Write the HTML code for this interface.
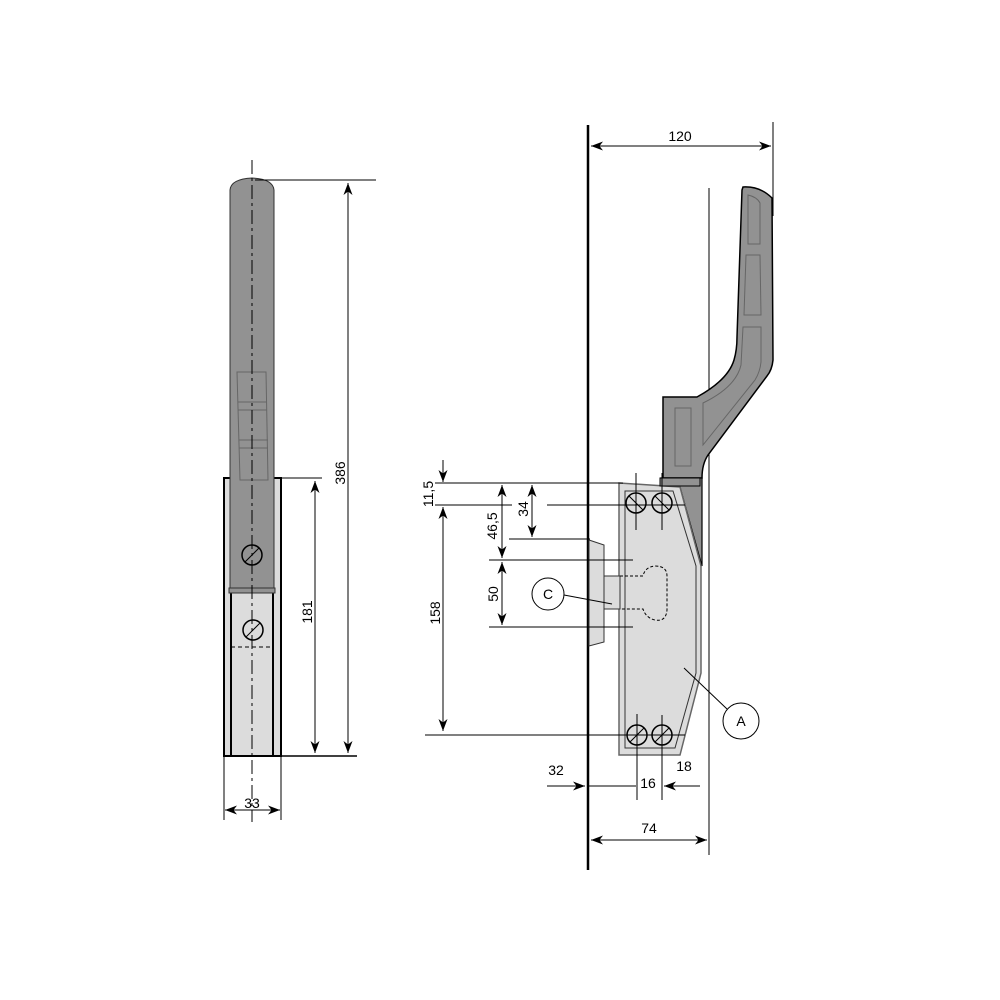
<!DOCTYPE html>
<html><head><style>body{margin:0;background:#fff}svg{display:block}text{font-family:"Liberation Sans",sans-serif;font-size:14px;fill:#000}</style></head>
<body>
<svg width="1000" height="1000" viewBox="0 0 1000 1000" xmlns="http://www.w3.org/2000/svg">
<defs>
<marker id="a" viewBox="0 0 12 10" refX="12" refY="5" markerWidth="12" markerHeight="10" markerUnits="userSpaceOnUse" orient="auto-start-reverse"><path d="M0,0.5 L12,5 L0,9.5 L3.5,5z" fill="#000"/></marker>
</defs>
<g stroke="#000" fill="none">
<!-- LEFT VIEW -->
<rect x="224" y="478" width="57" height="278" fill="#dcdcdc" stroke-width="2"/>
<line x1="231" y1="478" x2="231" y2="756" stroke-width="2"/>
<line x1="273" y1="478" x2="273" y2="756" stroke-width="2"/>
<path d="M230,588 L230,190 Q231,179 252,178 Q273,179 274,190 L274,588 Z" fill="#929292" stroke="#333"/>
<rect x="229" y="588" width="46" height="5" fill="#929292" stroke="#333"/>
<path d="M237,372 L266,372 L268,480 L240,480 Z" stroke="#666"/>
<line x1="238" y1="402" x2="267" y2="402" stroke="#666"/>
<line x1="238" y1="410" x2="267" y2="410" stroke="#666"/>
<line x1="239" y1="440" x2="268" y2="440" stroke="#666"/>
<line x1="239" y1="448" x2="268" y2="448" stroke="#666"/>
<circle cx="252" cy="555" r="10" stroke-width="1.5"/><line x1="245" y1="562" x2="259" y2="548"/>
<circle cx="253" cy="630" r="10" stroke-width="1.5"/><line x1="246" y1="637" x2="260" y2="623"/>
<line x1="231" y1="647" x2="273" y2="647" stroke-dasharray="4,3"/>
<line x1="252" y1="160" x2="252" y2="822" stroke-dasharray="14,4,3,4"/>
<line x1="255" y1="180" x2="376" y2="180"/>
<line x1="281" y1="478" x2="322" y2="478"/>
<line x1="224" y1="756" x2="357" y2="756" stroke-width="1.5"/>
<line x1="348" y1="183" x2="348" y2="753" marker-start="url(#a)" marker-end="url(#a)"/>
<line x1="315" y1="481" x2="315" y2="753" marker-start="url(#a)" marker-end="url(#a)"/>
<line x1="224" y1="756" x2="224" y2="820"/>
<line x1="281" y1="756" x2="281" y2="820"/>
<line x1="225" y1="810" x2="280" y2="810" marker-start="url(#a)" marker-end="url(#a)"/>
<!-- RIGHT VIEW -->
<line x1="588" y1="125" x2="588" y2="870" stroke-width="2.5"/>
<line x1="773" y1="122" x2="773" y2="216"/>
<line x1="709" y1="188" x2="709" y2="855"/>
<line x1="591" y1="146" x2="771" y2="146" marker-start="url(#a)" marker-end="url(#a)"/>
<line x1="591" y1="840" x2="707" y2="840" marker-start="url(#a)" marker-end="url(#a)"/>
<!-- handle -->
<path d="M743,187 Q760,186 772,198 L773,360 Q772,370 767,376 L708,455 Q702,464 702,478 L663,478 L663,397 L697,397 Q728,380 734,360 Q737,350 737,337 L742,190 Z" fill="#929292" stroke-width="1.5"/>
<path d="M748,195 Q757,197 760,203 L760,244 L748,244 Z" stroke="#666"/>
<path d="M746,255 L760,255 L761,315 L744,315 Z" stroke="#666"/>
<path d="M743,327 L761,327 L761,362 Q760,372 755,380 L703,445 L703,403 Q736,387 741,365 Z" stroke="#666"/>
<rect x="675" y="408" width="16" height="58" stroke="#666"/>
<path d="M661,478 L702,478 L702,566 L680,487 L661,487 Z" fill="#929292" stroke-width="1.2"/>
<!-- bracket -->
<path d="M619,483 L680,487 L701,566 L701,673 L680,755 L619,755 Z" fill="#dcdcdc" stroke="#666" stroke-width="1.5"/>
<path d="M625,491 L673,491 L696,566 L696,673 L675,748 L625,748 Z" stroke="#333"/>
<rect x="660" y="478" width="40" height="8" fill="#929292" stroke="#000"/>
<circle cx="636" cy="503" r="10" stroke-width="1.5"/><line x1="629" y1="496" x2="643" y2="510"/>
<circle cx="662" cy="503" r="10" stroke-width="1.5"/><line x1="655" y1="496" x2="669" y2="510"/>
<circle cx="637" cy="735" r="10" stroke-width="1.5"/><line x1="630" y1="742" x2="644" y2="728"/>
<circle cx="662" cy="735" r="10" stroke-width="1.5"/><line x1="655" y1="742" x2="669" y2="728"/>
<line x1="636" y1="473" x2="636" y2="530"/><line x1="662" y1="473" x2="662" y2="530"/>
<line x1="637" y1="714" x2="637" y2="800"/><line x1="662" y1="715" x2="662" y2="800"/>
<!-- knob -->
<path d="M589,540 L604,545 L604,642 L589,646 Z" fill="#dcdcdc" stroke="#333"/>
<rect x="604" y="576" width="16" height="33" fill="#dcdcdc" stroke="#333"/>
<path d="M620,576 L643,576 Q645,567 655,566 Q667,566 667,576 L667,610 Q666,622 655,620 Q646,618 643,609 L620,609" stroke-dasharray="3,2"/>
<!-- dims -->
<line x1="435" y1="483" x2="623" y2="483"/>
<line x1="435" y1="505" x2="512" y2="505"/>
<line x1="547" y1="505" x2="685" y2="505"/>
<line x1="509" y1="539" x2="590" y2="539"/>
<line x1="489" y1="560" x2="633" y2="560"/>
<line x1="489" y1="627" x2="633" y2="627"/>
<line x1="425" y1="735" x2="685" y2="735"/>
<line x1="443" y1="460" x2="443" y2="482" marker-end="url(#a)"/>
<line x1="443" y1="507" x2="443" y2="731" marker-start="url(#a)" marker-end="url(#a)"/>
<line x1="502" y1="485" x2="502" y2="558" marker-start="url(#a)" marker-end="url(#a)"/>
<line x1="532" y1="485" x2="532" y2="537" marker-start="url(#a)" marker-end="url(#a)"/>
<line x1="502" y1="562" x2="502" y2="625" marker-start="url(#a)" marker-end="url(#a)"/>
<circle cx="548" cy="594" r="16" fill="#fff"/>
<line x1="564" y1="595" x2="612" y2="604"/>
<circle cx="741" cy="721" r="18" fill="#fff"/>
<line x1="684" y1="668" x2="727" y2="709"/>
<line x1="547" y1="786" x2="585" y2="786" marker-end="url(#a)"/>
<line x1="588" y1="786" x2="636" y2="786"/>
<line x1="700" y1="786" x2="664" y2="786" marker-end="url(#a)"/>
</g>
<text x="680" y="141" text-anchor="middle">120</text>
<text x="649" y="833" text-anchor="middle">74</text>
<text x="556" y="775" text-anchor="middle">32</text>
<text x="648" y="788" text-anchor="middle">16</text>
<text x="684" y="771" text-anchor="middle">18</text>
<text x="252" y="808" text-anchor="middle">33</text>
<text x="548" y="599" text-anchor="middle">C</text>
<text x="741" y="726" text-anchor="middle">A</text>
<text transform="translate(345,473) rotate(-90)" text-anchor="middle">386</text>
<text transform="translate(312,612) rotate(-90)" text-anchor="middle">181</text>
<text transform="translate(433,494) rotate(-90)" text-anchor="middle">11,5</text>
<text transform="translate(497,526) rotate(-90)" text-anchor="middle">46,5</text>
<text transform="translate(528,509) rotate(-90)" text-anchor="middle">34</text>
<text transform="translate(498,594) rotate(-90)" text-anchor="middle">50</text>
<text transform="translate(440,613) rotate(-90)" text-anchor="middle">158</text>
</svg>
</body></html>
